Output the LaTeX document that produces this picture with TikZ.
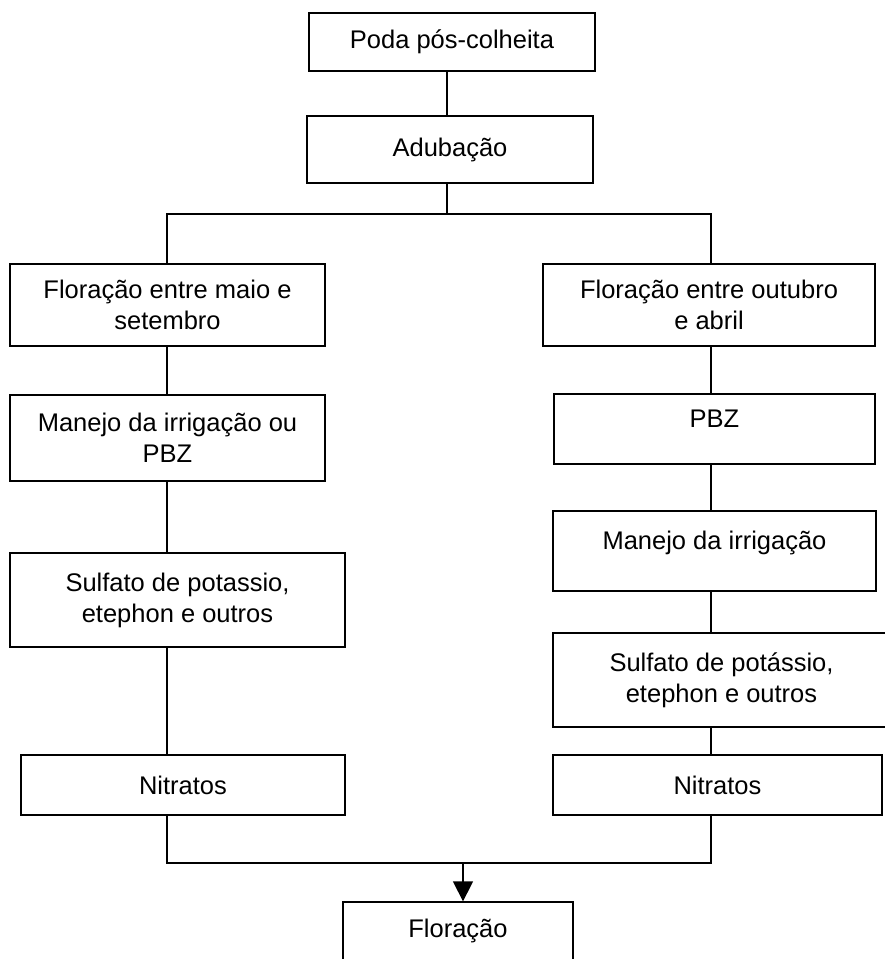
\documentclass[tikz,border=0pt]{standalone}
\usepackage{fontspec}
\setmainfont{Liberation Sans}
\usetikzlibrary{arrows.meta}

\newcommand*{\colL}{167}
\newcommand*{\colR}{711}
\newcommand*{\ysplit}{214}
\newcommand*{\yjoin}{863}

\begin{document}
\begin{tikzpicture}
[
	x=1pt, y=-1pt,
	every node/.style={font=\fontsize{25.5}{31}\selectfont},
	stepbox/.style={draw,rectangle,line width=1.3pt,align=center,inner sep=0pt},
	link/.style={line width=1.3pt},
]

	\useasboundingbox (0,0) rectangle (885,959);

	% top
	\node[stepbox,minimum width=286pt,minimum height=58pt] (poda) at (452,42) {Poda pós-colheita};
	\node[stepbox,minimum width=286pt,minimum height=67pt] (adub) at (450,149.5) {Adubação};

	% left branch
	\node[stepbox,minimum width=315pt,minimum height=82pt] (florL) at (167.5,305) {Floração entre maio e\\setembro};
	\node[stepbox,minimum width=315pt,minimum height=86pt] (manL) at (167.5,438) {Manejo da irrigação ou\\PBZ};
	\node[stepbox,minimum width=335pt,minimum height=94pt] (sulfL) at (177.5,600) {Sulfato de potassio,\\etephon e outros};
	\node[stepbox,minimum width=324pt,minimum height=60pt] (nitL) at (183,785) {Nitratos};

	% right branch
	\node[stepbox,minimum width=332pt,minimum height=82pt] (florR) at (709,305) {Floração entre outubro\\e abril};
	\node[stepbox,minimum width=321pt,minimum height=70pt] (pbz) at (714.5,429) {PBZ\\[-10pt]\mbox{}};
	\node[stepbox,minimum width=323pt,minimum height=80pt] (manR) at (714.5,551) {Manejo da irrigação\\[-10pt]\mbox{}};
	\node[stepbox,minimum width=337pt,minimum height=94pt] (sulfR) at (721.5,680) {Sulfato de potássio,\\etephon e outros};
	\node[stepbox,minimum width=329pt,minimum height=60pt] (nitR) at (717.5,785) {Nitratos};

	% bottom
	\node[stepbox,minimum width=230pt,minimum height=76pt] (flor) at (458,940) {Floração\\[-8pt]\mbox{}};

	% connectors
	\coordinate (cl) at (\colL,0);
	\coordinate (cr) at (\colR,0);
	\coordinate (split) at (447,\ysplit);
	\coordinate (join) at (463,\yjoin);

	\draw[link] (poda.south -| split) -- (adub.north -| split);
	\draw[link] (adub.south -| split) -- (split);
	\draw[link] (florL.north -| cl) |- (split) -| (florR.north -| cr);

	\foreach \a/\b in {florL/manL, manL/sulfL, sulfL/nitL}
		\draw[link] (\a.south -| cl) -- (\b.north -| cl);
	\foreach \a/\b in {florR/pbz, pbz/manR, manR/sulfR, sulfR/nitR}
		\draw[link] (\a.south -| cr) -- (\b.north -| cr);

	\draw[link] (nitL.south -| cl) |- (join) -| (nitR.south -| cr);
	\draw[link,-{Triangle[length=20pt,width=20pt]}] (join) -- (flor.north -| join);

\end{tikzpicture}
\end{document}
